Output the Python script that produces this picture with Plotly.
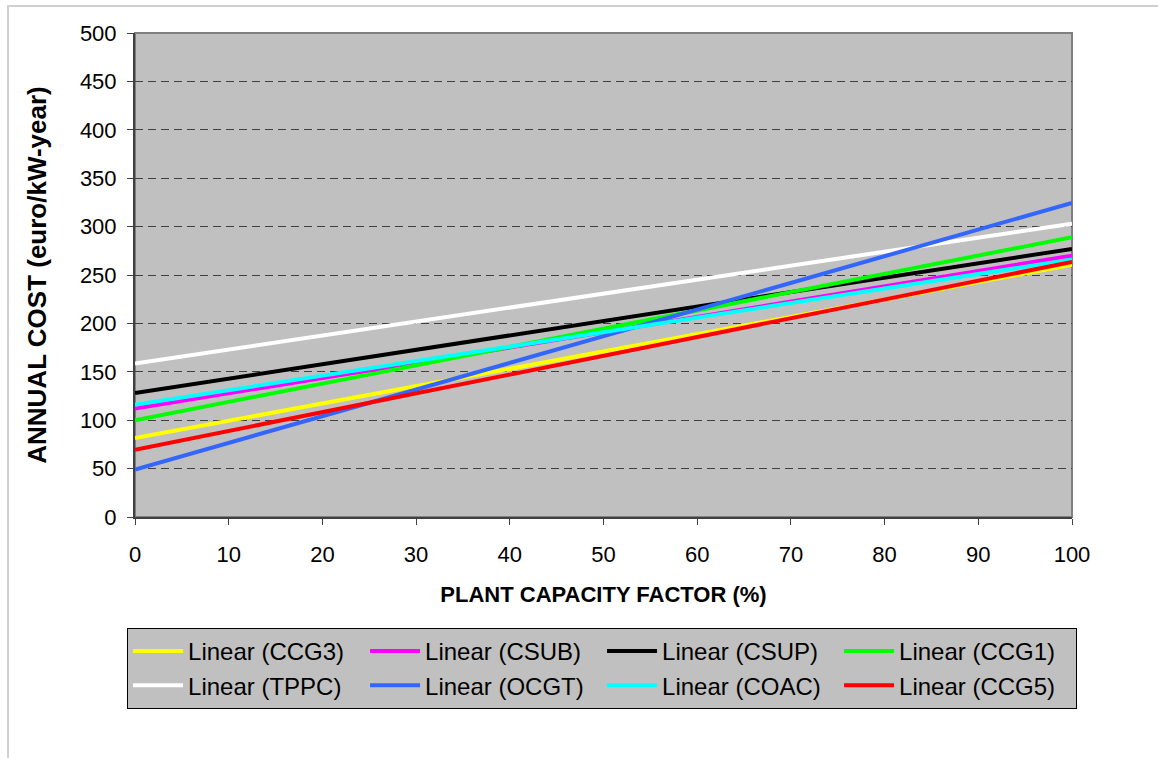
import plotly.graph_objects as go

# Data (linear trend lines from 0% to 100% capacity factor)
capacity_factor = [0, 100]
series_names = ["Linear (CCG3)", "Linear (CSUB)", "Linear (CSUP)", "Linear (CCG1)",
                "Linear (TPPC)", "Linear (OCGT)", "Linear (COAC)", "Linear (CCG5)"]
cost_at_0 = [81.5, 112, 128, 100, 158.5, 49, 116, 69.5]
cost_at_100 = [260.5, 270, 277, 289, 303, 324.5, 266, 263.5]
series_colors = ["#FFFF00", "#FF00FF", "#000000", "#00FF00",
                 "#FFFFFF", "#3366FF", "#00FFFF", "#FF0000"]

x_ticks = list(range(0, 101, 10))
y_ticks = list(range(0, 501, 50))

FONT = "Arial, Liberation Sans, sans-serif"

fig = go.Figure()
for name, a, b, c in zip(series_names, cost_at_0, cost_at_100, series_colors):
    fig.add_trace(go.Scatter(
        x=capacity_factor, y=[a, b], mode="lines", name=name,
        line=dict(color=c, width=4), hoverinfo="skip"))

fig.update_layout(
    width=1158, height=758,
    margin=dict(l=135, r=86, t=33, b=241),
    paper_bgcolor="white",
    plot_bgcolor="#C0C0C0",
    font=dict(family=FONT, color="black", size=22),
    showlegend=True,
    legend=dict(
        orientation="h",
        x=-0.0085, xanchor="left",
        y=-0.229, yanchor="top",
        bgcolor="#C0C0C0",
        bordercolor="#000000", borderwidth=1,
        font=dict(family=FONT, size=24, color="black"),
        entrywidth=172, entrywidthmode="pixels",
        itemwidth=50,
        traceorder="normal",
    ),
    shapes=[
        # outer chart border
        dict(type="rect", xref="paper", yref="paper",
             x0=-0.1355, x1=1.2, y0=-0.7, y1=1.0558,
             line=dict(color="#D0D0D0", width=2), layer="below"),
        # plot-area border (top/right)
        dict(type="rect", xref="paper", yref="paper",
             x0=0, x1=1, y0=0, y1=1,
             line=dict(color="#808080", width=2), layer="below"),
    ],
)

fig.update_xaxes(
    range=[0, 100], tickvals=x_ticks, ticktext=[str(v) for v in x_ticks],
    showgrid=False, zeroline=False,
    showline=True, linecolor="#404040", linewidth=2,
    ticks="outside", ticklen=6, tickcolor="#404040", tickwidth=1,
    ticklabelstandoff=11,
    tickfont=dict(size=22, family=FONT),
    title=dict(text="<b>PLANT CAPACITY FACTOR (%)</b>",
               font=dict(size=22, family=FONT), standoff=20),
)
fig.update_yaxes(
    range=[0, 500], tickvals=y_ticks, ticktext=[str(v) for v in y_ticks],
    showgrid=True, gridcolor="#404040", gridwidth=1, griddash="8px,5px",
    zeroline=False,
    showline=True, linecolor="#404040", linewidth=2,
    ticks="outside", ticklen=6, tickcolor="#404040", tickwidth=1,
    ticklabelstandoff=6,
    tickfont=dict(size=22, family=FONT),
    title=dict(text="<b>ANNUAL COST (euro/kW-year)</b>",
               font=dict(size=26, family=FONT), standoff=26),
)

fig.write_html("out.html")
